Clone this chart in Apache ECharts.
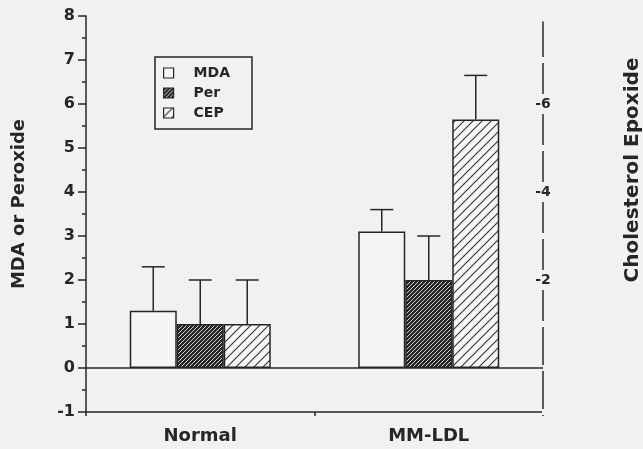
<!DOCTYPE html>
<html>
<head>
<meta charset="utf-8">
<script src="https://cdn.jsdelivr.net/npm/echarts@6/dist/echarts.min.js"></script>
<style>
  html, body { margin: 0; padding: 0; background: #f1f1f1; }
  #chart { width: 643px; height: 449px; }
</style>
</head>
<body>
<div id="chart"></div>
<script>
// ---- data ----
var categories = ['Normal', 'MM-LDL'];
var seriesNames = ['MDA', 'Per', 'CEP'];
var mdaValues = [1.3, 3.1];
var perValues = [1.0, 2.0];
var cepValues = [1.0, 5.65];
var mdaErrors = [1.0, 0.5];
var perErrors = [1.0, 1.0];
var cepErrors = [1.0, 1.0];
var rightTickValues = [2, 4, 6];
var rightTickLabels = ['-2', '-4', '-6'];
var leftTitle = 'MDA or Peroxide';
var rightTitle = 'Cholesterol Epoxide';

// ---- styles ----
var BG = '#f1f1f1';
var INK = '#262626';
var FONT = 'DejaVu Sans';
var BAR_W = 47;

function hatch(size, bg, fg, lw) {
  var c = document.createElement('canvas');
  c.width = size; c.height = size;
  var ctx = c.getContext('2d');
  ctx.fillStyle = bg; ctx.fillRect(0, 0, size, size);
  ctx.strokeStyle = fg; ctx.lineWidth = lw; ctx.lineCap = 'square';
  ctx.beginPath();
  ctx.moveTo(0, size); ctx.lineTo(size, 0);
  ctx.moveTo(-1, 1); ctx.lineTo(1, -1);
  ctx.moveTo(size - 1, size + 1); ctx.lineTo(size + 1, size - 1);
  ctx.stroke();
  return c;
}
var perPattern = { image: hatch(4, '#262626', '#e8e8e8', 0.9), repeat: 'repeat' };
var cepPattern = { image: hatch(9, '#f5f5f5', '#333333', 1.1), repeat: 'repeat' };
var fills = ['#f5f5f5', perPattern, cepPattern];
var valuesList = [mdaValues, perValues, cepValues];
var errorsList = [mdaErrors, perErrors, cepErrors];

var series = [];
seriesNames.forEach(function (name, i) {
  var s = {
    name: name,
    type: 'bar',
    xAxisIndex: 0, yAxisIndex: 0,
    barWidth: BAR_W,
    barGap: '0%',
    data: valuesList[i],
    itemStyle: { color: fills[i], borderColor: INK, borderWidth: 1.5 },
    emphasis: { disabled: true }
  };
  if (i === 0) {
    s.markLine = {
      silent: true, symbol: 'none', label: { show: false },
      lineStyle: { color: INK, width: 1.5, type: 'solid' },
      data: [{ yAxis: 0 }]
    };
  }
  series.push(s);
});
seriesNames.forEach(function (name, i) {
  var offset = (i - 1) * BAR_W;
  series.push({
    type: 'custom',
    xAxisIndex: 0, yAxisIndex: 0,
    silent: true,
    z: 5,
    data: valuesList[i].map(function (v, k) { return [k, v, v + errorsList[i][k]]; }),
    renderItem: function (params, api) {
      var base = api.coord([api.value(0), api.value(1)]);
      var top = api.coord([api.value(0), api.value(2)]);
      var x = base[0] + offset;
      var st = { stroke: INK, lineWidth: 1.5 };
      return {
        type: 'group',
        children: [
          { type: 'line', shape: { x1: x, y1: base[1], x2: x, y2: top[1] }, style: st },
          { type: 'line', shape: { x1: x - 11.5, y1: top[1], x2: x + 11.5, y2: top[1] }, style: st }
        ]
      };
    }
  });
});

var chart = echarts.init(document.getElementById('chart'));
chart.setOption({
  backgroundColor: BG,
  animation: false,
  grid: [
    { left: 86, right: 100, top: 16, bottom: 37 },
    { left: 86, right: 100, top: 22, bottom: 37 }
  ],
  legend: {
    data: seriesNames,
    orient: 'vertical',
    left: 155, top: 57,
    backgroundColor: BG,
    borderColor: INK, borderWidth: 1.5, borderRadius: 0,
    padding: [9, 22, 9, 8],
    itemWidth: 10, itemHeight: 10, itemGap: 6,
    icon: 'rect',
    itemStyle: { borderColor: INK, borderWidth: 1.2 },
    textStyle: { fontFamily: FONT, fontWeight: 'bold', fontSize: 14, color: INK, padding: [0, 0, 0, 15] },
    selectedMode: false
  },
  xAxis: [
    {
      type: 'category', gridIndex: 0, data: categories,
      axisLine: { onZero: false, lineStyle: { color: INK, width: 1.5 } },
      axisTick: { show: true, length: 4, lineStyle: { color: INK, width: 1.5 } },
      axisLabel: { fontFamily: FONT, fontWeight: 'bold', fontSize: 18, color: INK, margin: 15 },
      splitLine: { show: false }
    },
    {
      type: 'category', gridIndex: 1, data: categories, show: false
    }
  ],
  yAxis: [
    {
      type: 'value', gridIndex: 0, min: -1, max: 8, interval: 1,
      axisLine: { show: true, lineStyle: { color: INK, width: 1.5 } },
      axisTick: { show: true, length: 8, lineStyle: { color: INK, width: 1.5 } },
      minorTick: { show: true, splitNumber: 2, length: 4, lineStyle: { color: INK, width: 1.5 } },
      axisLabel: { fontFamily: FONT, fontWeight: 'bold', fontSize: 16, color: INK, margin: 11 },
      splitLine: { show: false }
    },
    {
      type: 'value', gridIndex: 1, position: 'right', min: -1, max: 7.8636, interval: 1,
      axisLine: { show: true, lineStyle: { color: INK, width: 1.5 } },
      axisTick: { show: false },
      axisLabel: {
        fontFamily: FONT, fontWeight: 'bold', fontSize: 14, color: INK,
        align: 'center', margin: 0, backgroundColor: BG, padding: [3, 1],
        showMinLabel: true, showMaxLabel: false,
        formatter: function (v) {
          var k = rightTickValues.indexOf(Math.round(v * 1000) / 1000);
          return k >= 0 ? rightTickLabels[k] : '';
        }
      },
      splitLine: { show: false }
    }
  ],
  graphic: [
    {
      type: 'text', x: 19, y: 204, rotation: Math.PI / 2,
      style: { text: leftTitle, font: 'bold 18px "DejaVu Sans"', fill: INK, align: 'center', verticalAlign: 'middle' }
    },
    {
      type: 'text', x: 633, y: 170, rotation: Math.PI / 2,
      style: { text: rightTitle, font: 'bold 20px "DejaVu Sans"', fill: INK, align: 'center', verticalAlign: 'middle' }
    }
  ],
  series: series
});
</script>
</body>
</html>
